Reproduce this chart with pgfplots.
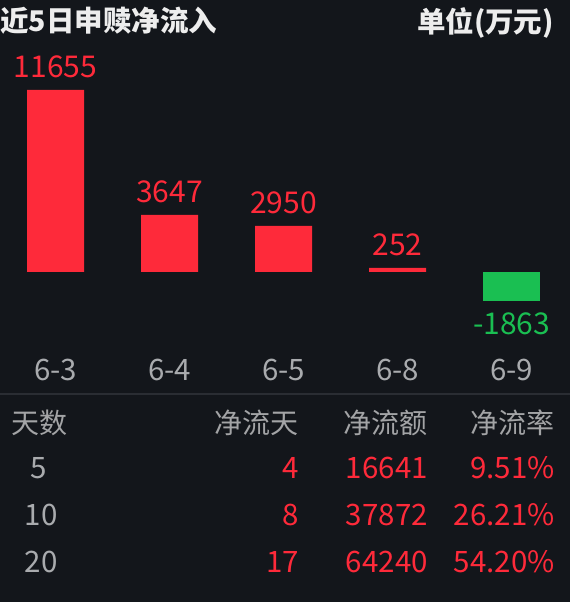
\documentclass[border=0pt]{standalone}
\usepackage{fontspec}
\setmainfont{Noto Sans CJK SC}
\usepackage{pgfplots}
\pgfplotsset{compat=1.18}

\definecolor{bg}{HTML}{13161B}
\definecolor{upred}{HTML}{FE2A3A}
\definecolor{dngreen}{HTML}{1ABF52}
\definecolor{lbl}{HTML}{A9ABAE}
\definecolor{hdr}{HTML}{A3A4A6}
\definecolor{ttl}{HTML}{EDEDED}
\definecolor{sep}{HTML}{2A2D33}

\newcommand\fs[1]{\fontsize{#1}{#1}\selectfont}

\begin{document}
\begin{tikzpicture}[x=1pt,y=1pt]
\fill[bg] (0,0) rectangle (570,602);

% title line
\node[anchor=north west, inner sep=0pt, text=ttl, font=\fs{28.5}\bfseries] at (0,595) {近5日申赎净流入};
\node[anchor=north east, inner sep=0pt, text=ttl, font=\fs{28.5}\bfseries] at (554,595) {单位(万元)};

\begin{axis}[
  at={(-1.5pt,301pt)}, anchor=south west,
  scale only axis,
  width=570pt, height=211.1pt,
  xmin=-0.5, xmax=4.5,
  ymin=-1863, ymax=11655,
  clip=false,
  axis x line=bottom, axis y line=none,
  x axis line style={draw=none},
  xtick={0,1,2,3,4},
  xticklabels={6-3,6-4,6-5,6-8,6-9},
  xtick style={draw=none},
  xticklabel style={anchor=base, inner sep=0pt, yshift=-75pt, text=lbl, font=\fs{29.5}},
  ybar, bar width=57pt,
  point meta=explicit symbolic,
]
\addplot[fill=upred, draw=none, bar shift=0pt,
  nodes near coords,
  every node near coord/.append style={anchor=base, inner sep=0pt, yshift=12.5pt, text=upred, font=\fs{30}}]
  coordinates {(0,11655)[11655] (1,3647)[3647] (2,2950)[2950] (3,252)[252]};
\addplot[fill=dngreen, draw=none, bar shift=0pt,
  nodes near coords,
  every node near coord/.append style={anchor=base, inner sep=0pt, yshift=-34pt, text=dngreen, font=\fs{30}}]
  coordinates {(4,-1863)[-1863]};
\end{axis}

\draw[sep, line width=1.5pt] (0,208) -- (570,208);

% table
\begin{scope}[every node/.style={inner sep=0pt, font=\fs{28}}]
\node[anchor=north west, text=hdr] at (11,192) {天数};
\node[anchor=north east, text=hdr] at (299,192) {净流天};
\node[anchor=north east, text=hdr] at (428,192) {净流额};
\node[anchor=north east, text=hdr] at (555,192) {净流率};
\end{scope}
\begin{scope}[every node/.style={inner sep=0pt, font=\fs{29.5}}]
\node[anchor=base, text=lbl] at (39,123) {5};
\node[anchor=base, text=lbl] at (41,76) {10};
\node[anchor=base, text=lbl] at (41,29) {20};
\node[anchor=base east, text=upred] at (299,123) {4};
\node[anchor=base east, text=upred] at (299,76) {8};
\node[anchor=base east, text=upred] at (299,29) {17};
\node[anchor=base east, text=upred] at (428,123) {16641};
\node[anchor=base east, text=upred] at (428,76) {37872};
\node[anchor=base east, text=upred] at (428,29) {64240};
\node[anchor=base east, text=upred] at (555,123) {9.51\%};
\node[anchor=base east, text=upred] at (555,76) {26.21\%};
\node[anchor=base east, text=upred] at (555,29) {54.20\%};
\end{scope}

\pgfresetboundingbox
\path (0,0) rectangle (570,602);
\end{tikzpicture}
\end{document}
